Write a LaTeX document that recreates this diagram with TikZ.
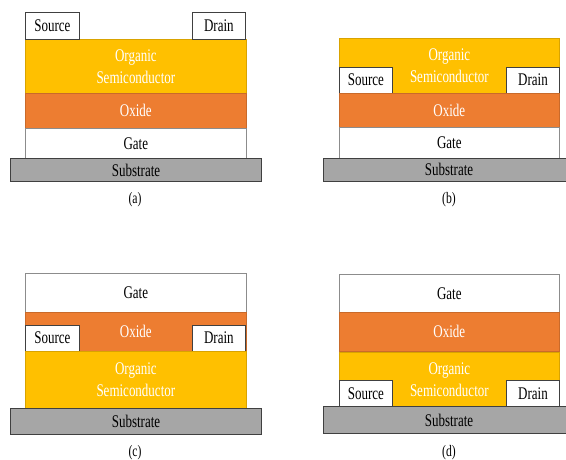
\documentclass[tikz,border=0pt]{standalone}
\usepackage{fontspec}
\setmainfont{Liberation Serif}[FakeStretch=0.73]
\usepackage{xcolor}
\definecolor{oscyellow}{HTML}{FFC000}
\definecolor{oxorange}{HTML}{ED7D31}
\definecolor{subgray}{HTML}{A6A6A6}
\tikzstyle{layer}=[rectangle,inner sep=0,outer sep=0,line width=0.7pt,font=\fontsize{17.8}{22}\selectfont,align=center]
\tikzstyle{osc}=[layer,fill=oscyellow,draw=oscyellow!85!black,text=white]
\tikzstyle{oxide}=[layer,fill=oxorange,draw=oxorange!85!black,text=white]
\tikzstyle{gate}=[layer,fill=white,draw=black!45]
\tikzstyle{contact}=[layer,fill=white,draw=black!75,minimum width=53.3pt,minimum height=26.3pt]
\tikzstyle{substrate}=[layer,fill=subgray,draw=black!75,minimum height=23pt]
\tikzstyle{caption}=[font=\fontsize{16}{18}\selectfont]

\begin{document}
\begin{tikzpicture}[x=1pt,y=-1pt]
    \useasboundingbox (0,0) rectangle (566,460);
    \clip (0,0) rectangle (566,460);

    % (a)
    \node[osc,minimum width=220.3pt,minimum height=54.7pt] (a-osc) at (135.85,66.35) {Organic\\Semiconductor};
    \node[oxide,minimum width=220.3pt,minimum height=34.3pt] (a-ox) at (135.85,110.85) {Oxide};
    \node[gate,minimum width=220.3pt,minimum height=30.7pt] (a-gate) at (135.85,143.35) {Gate};
    \node[substrate,minimum width=251.4pt] (a-sub) at (136,170.2) {Substrate};
    \node[contact] (a-src) at (52.35,25.85) {Source};
    \node[contact] (a-drn) at (218.85,25.85) {Drain};
    \node[caption] (a-cap) at (135,200) {(a)};

    % (b)
    \node[osc,minimum width=220.7pt,minimum height=55pt] (b-osc) at (449.35,65.8) {Organic\\Semiconductor};
    \node[contact] (b-src) at (365.85,80.15) {Source};
    \node[contact] (b-drn) at (533,80.15) {Drain};
    \node[oxide,minimum width=220.7pt,minimum height=34.4pt] (b-ox) at (449.35,110.5) {Oxide};
    \node[gate,minimum width=220.7pt,minimum height=30.6pt] (b-gate) at (449.35,143) {Gate};
    \node[substrate,minimum width=251.4pt] (b-sub) at (449,169.8) {Substrate};
    \node[caption] (b-cap) at (449,200) {(b)};

    % (c)
    \node[gate,minimum width=220.3pt,minimum height=39pt] (c-gate) at (135.85,292.8) {Gate};
    \node[oxide,minimum width=220.3pt,minimum height=38.7pt] (c-ox) at (135.85,331.65) {Oxide};
    \node[contact,minimum height=25.7pt] (c-src) at (52.35,338.15) {Source};
    \node[contact,minimum height=25.7pt] (c-drn) at (218.85,338.15) {Drain};
    \node[osc,minimum width=220.3pt,minimum height=57.3pt] (c-osc) at (135.85,379.65) {Organic\\Semiconductor};
    \node[substrate,minimum width=251.4pt,minimum height=26pt] (c-sub) at (136,421.3) {Substrate};
    \node[caption] (c-cap) at (135,452.7) {(c)};

    % (d)
    \node[gate,minimum width=220.7pt,minimum height=37.6pt] (d-gate) at (449.35,293.5) {Gate};
    \node[oxide,minimum width=220.7pt,minimum height=39pt] (d-ox) at (449.35,331.8) {Oxide};
    \node[osc,minimum width=220.7pt,minimum height=55.4pt] (d-osc) at (449.35,379.9) {Organic\\Semiconductor};
    \node[contact] (d-src) at (365.85,393.7) {Source};
    \node[contact] (d-drn) at (533,393.7) {Drain};
    \node[substrate,minimum width=251.4pt,minimum height=26.6pt] (d-sub) at (449,420) {Substrate};
    \node[caption] (d-cap) at (449,452.7) {(d)};
\end{tikzpicture}
\end{document}
